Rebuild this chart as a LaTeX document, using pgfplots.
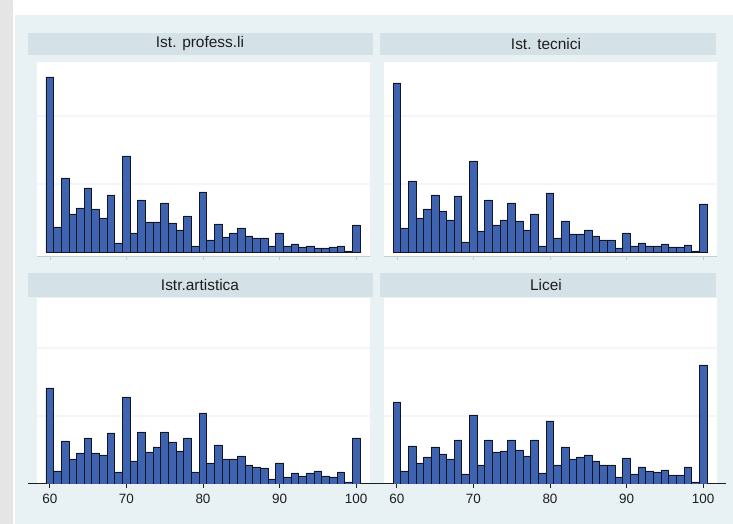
\documentclass[border=0pt]{standalone}
\usepackage{pgfplots}
\pgfplotsset{compat=1.18}
\usepackage{pgfplotstable}
\usepackage{fontspec}
\setmainfont{Liberation Sans}
\definecolor{bgblue}{RGB}{232,241,243}
\definecolor{stripc}{RGB}{212,225,231}
\definecolor{barfill}{RGB}{62,99,177}
\definecolor{baredge}{RGB}{20,20,30}
\definecolor{gridc}{RGB}{241,246,248}
\definecolor{leftgray}{RGB}{229,229,229}
\definecolor{txt}{RGB}{30,30,30}

\pgfplotstableread{
x y
60 175
61 25
62 74
63 38
64 44
65 64
66 43
67 34
68 57
69 9
70 96
71 19
72 52
73 30
74 30
75 49
76 29
77 22
78 36
79 6
80 60
81 12
82 28
83 15
84 19
85 24
86 16
87 14
88 14
89 6
90 19
91 6
92 8
93 5
94 6
95 4
96 4
97 5
98 6
99 1
100 27
}\dataA

\pgfplotstableread{
x y
60 169
61 24
62 71
63 34
64 43
65 57
66 41
67 32
68 56
69 10
70 91
71 21
72 52
73 27
74 32
75 49
76 31
77 22
78 38
79 6
80 59
81 14
82 31
83 18
84 18
85 22
86 16
87 12
88 12
89 4
90 19
91 6
92 9
93 6
94 6
95 8
96 5
97 5
98 7
99 1
100 48
}\dataB

\pgfplotstableread{
x y
60 96
61 13
62 43
63 25
64 31
65 46
66 31
67 29
68 51
69 12
70 87
71 23
72 52
73 32
74 37
75 52
76 42
77 33
78 46
79 12
80 71
81 21
82 39
83 25
84 25
85 28
86 19
87 17
88 16
89 5
90 21
91 7
92 11
93 8
94 11
95 13
96 8
97 7
98 12
99 2
100 46
}\dataC

\pgfplotstableread{
x y
60 82
61 13
62 38
63 21
64 27
65 37
66 30
67 25
68 44
69 10
70 69
71 19
72 44
73 32
74 33
75 44
76 34
77 28
78 44
79 11
80 63
81 19
82 37
83 25
84 27
85 29
86 23
87 19
88 19
89 7
90 26
91 10
92 17
93 13
94 12
95 14
96 9
97 9
98 17
99 2
100 119
}\dataD

\pgfplotsset{
  panel/.style={
    anchor=south west,
    scale only axis,
    width=333bp,
    xmin=58.325, xmax=101.81,
    axis background/.style={fill=white},
    axis x line*=bottom,
    axis y line*=left,
    y axis line style={draw=none},
    ytick={68,136},
    yticklabels={},
    y tick style={draw=none},
    ymajorgrids,
    grid style={gridc, line width=1.5bp},
    xtick={60,70,80,90,100},
    tick align=outside,
    major tick length=4bp,
    /pgf/number format/assume math mode=true,
  },
  toprow/.style={
    panel,
    height=194bp,
    ymin=-4, ymax=190,
    xticklabels={},
    x axis line style={draw={rgb,255:red,195;green,205;blue,212}, line width=0.6bp},
    x tick style={draw={rgb,255:red,195;green,205;blue,212}, line width=0.6bp},
  },
  botrow/.style={
    panel,
    height=186bp,
    ymin=0, ymax=186,
    x axis line style={draw=txt, line width=1bp, shorten <=-9bp, shorten >=-9bp},
    x tick style={draw=txt, line width=0.8bp},
    xticklabel style={font=\fontsize{13.5}{13.5}\selectfont, text=txt, yshift=-3bp},
  },
  barsty/.style={ybar, bar width=1, bar shift=0, fill=barfill, draw=baredge, line width=0.9bp},
}

\begin{document}
\begin{tikzpicture}[x=1bp,y=1bp]
\useasboundingbox (0,0) rectangle (733,524);
\fill[white] (0,0) rectangle (733,524);
\fill[bgblue] (15,0) rectangle (733,509);
\fill[leftgray] (0,0) rectangle (13,524);
% strips
\fill[stripc] (28,469) rectangle (373,491);
\fill[stripc] (380,469) rectangle (716,491);
\fill[stripc] (28,227) rectangle (373,251);
\fill[stripc] (380,227) rectangle (716,251);
\node[text=txt, font=\fontsize{15.5}{15.5}\selectfont] at (200,480.5) {Ist. profess.li};
\node[text=txt, font=\fontsize{15.5}{15.5}\selectfont] at (546,480.5) {Ist. tecnici};
\node[text=txt, font=\fontsize{15.5}{15.5}\selectfont] at (200,239) {Istr.artistica};
\node[text=txt, font=\fontsize{15.5}{15.5}\selectfont] at (546,239) {Licei};

\begin{axis}[toprow, at={(37bp,268bp)}]
\addplot[barsty] table[x=x,y=y] {\dataA};
\end{axis}
\begin{axis}[toprow, at={(384bp,268bp)}]
\addplot[barsty] table[x=x,y=y] {\dataB};
\end{axis}
\begin{axis}[botrow, at={(37bp,40bp)}]
\addplot[barsty] table[x=x,y=y] {\dataC};
\end{axis}
\begin{axis}[botrow, at={(384bp,40bp)}]
\addplot[barsty] table[x=x,y=y] {\dataD};
\end{axis}
\end{tikzpicture}
\end{document}
